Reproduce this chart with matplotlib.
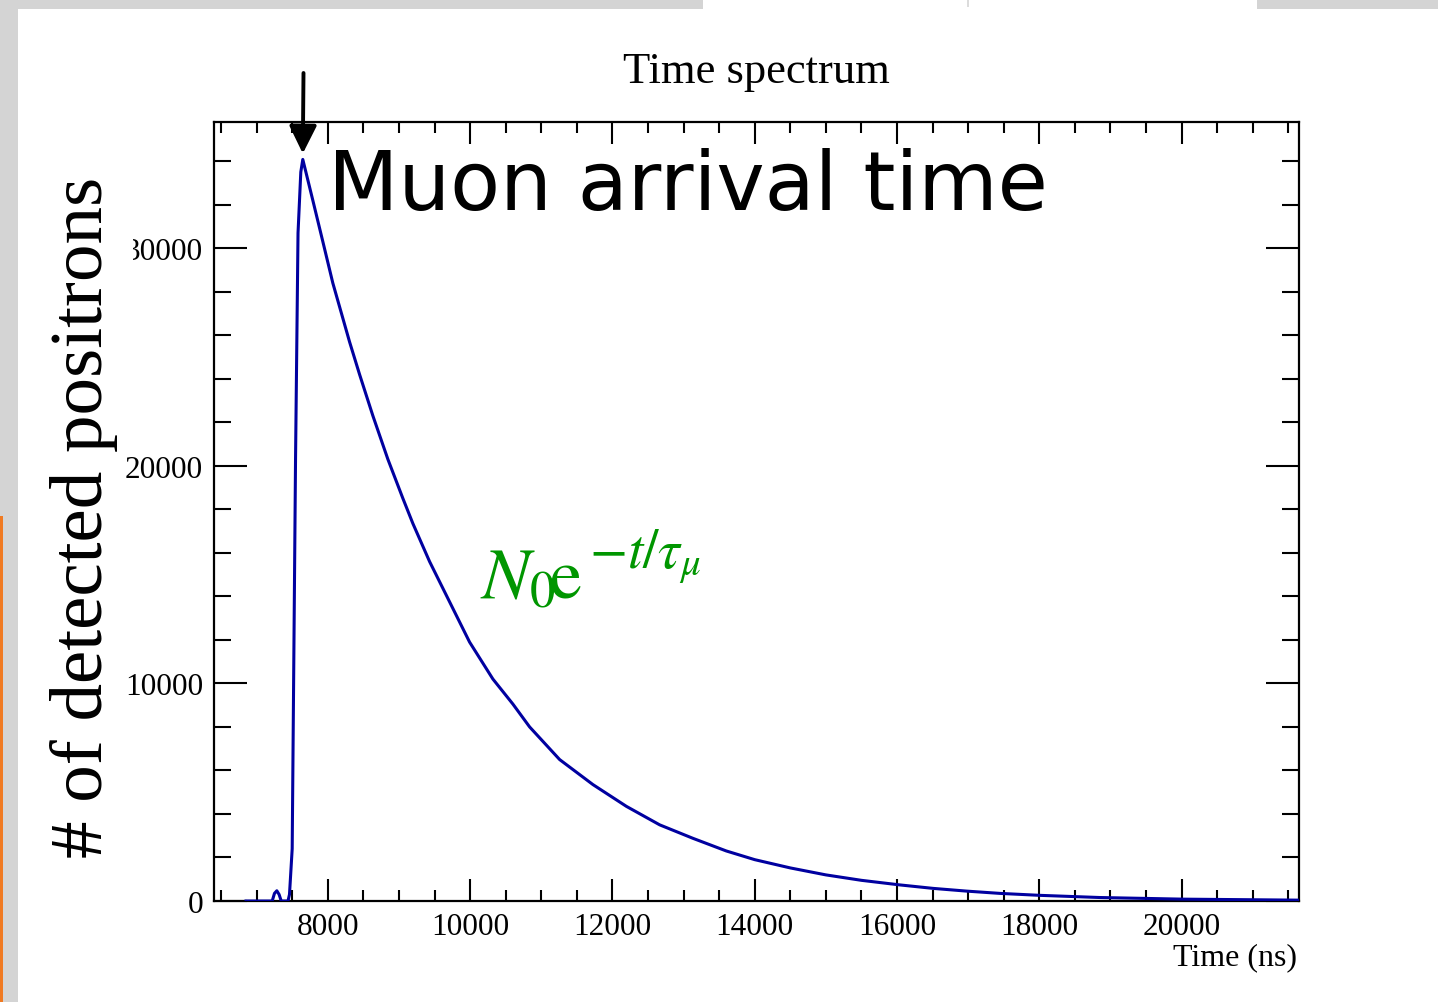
import matplotlib
matplotlib.use("Agg")
import matplotlib.pyplot as plt
from matplotlib.patches import Rectangle
from matplotlib.ticker import MultipleLocator

# ---- data ----
time_ns = [6850, 7180, 7218, 7250, 7283, 7315, 7345, 7440, 7461, 7499, 7546, 7581,
           7620, 7648, 7789, 7930, 8070, 8305, 8446, 8633, 8844, 9055, 9195, 9430,
           9711, 9992, 10320, 10601, 10836, 11258, 11726, 12196, 12664, 13132, 13600,
           14000, 14500, 15000, 15500, 16038, 16507, 16976, 17445, 18007, 18851,
           20018, 21621, 21650]
counts = [0, 0, 0, 350, 470, 300, 0, 0, 300, 2400, 20300, 30700,
          33500, 34080, 32200, 30300, 28400, 25700, 24200, 22300, 20300, 18500, 17350, 15600,
          13750, 11900, 10200, 9050, 8000, 6500, 5350, 4350, 3500, 2880, 2300,
          1900, 1520, 1200, 950, 740, 580, 455, 350, 260, 160,
          85, 40, 40]

x_major = [8000, 10000, 12000, 14000, 16000, 18000, 20000]
y_major = [0, 10000, 20000, 30000]
x_range = (6400, 21650)
y_range = (0, 35800)

title = "Time spectrum"
xlabel = "Time (ns)"
ylabel = "# of detected positrons"
annot = "Muon arrival time"
formula_base = r"$N_0\!\mathrm{e}$"
formula_exp = r"$-t/\tau_{\mu}$"

W, H = 1438, 1003
SERIF = "Liberation Serif"

fig = plt.figure(figsize=(W / 100, H / 100), dpi=100)
fig.patch.set_facecolor("white")


def px(x0, y0, x1, y1):
    return (x0 / W, 1 - y1 / H, (x1 - x0) / W, (y1 - y0) / H)


def rect(x0, y0, x1, y1, color, z=0):
    l, b, w, h = px(x0, y0, x1, y1)
    fig.add_artist(Rectangle((l, b), w, h, transform=fig.transFigure,
                             facecolor=color, edgecolor="none", zorder=z))


def ftext(x, y, s, **kw):
    return fig.text(x / W, 1 - y / H, s, **kw)


# slide background decorations
rect(0, 0, 703, 10, "#d4d4d4", -1)
rect(1257, 0, W, 10, "#d4d4d4", -1)
rect(967, 0, 969, 8, "#dcdcdc", -1)
rect(0, 0, 18, H, "#d4d4d4", -1)
rect(0, 517, 3, H, "#f07a22", -1)

ax = fig.add_axes(px(214, 123, 1299, 902))
ax.plot(time_ns, counts, color="#0000a0", lw=2.2, zorder=3)
ax.set_xlim(*x_range)
ax.set_ylim(*y_range)

ax.set_xticks(x_major)
ax.set_yticks(y_major)
ax.xaxis.set_minor_locator(MultipleLocator(500))
ax.yaxis.set_minor_locator(MultipleLocator(2000))
ax.tick_params(axis="both", which="both", direction="in", top=True, right=True,
               width=1.5, colors="black")
ax.tick_params(axis="x", which="major", length=16, pad=8)
ax.tick_params(axis="x", which="minor", length=8)
ax.tick_params(axis="y", which="major", length=24, pad=8)
ax.tick_params(axis="y", which="minor", length=12)
for lab in ax.get_xticklabels() + ax.get_yticklabels():
    lab.set_fontfamily(SERIF)
    lab.set_fontsize(22.5)
for s in ax.spines.values():
    s.set_linewidth(1.6)

# hide part of the 30000 label like in the reference
rect(104, 228, 133, 272, "white", 5)

ftext(756, 83, title, family=SERIF, fontsize=32, ha="center", va="baseline")
ftext(1297, 965, xlabel, family=SERIF, fontsize=23, ha="right", va="baseline")
ftext(102, 517, ylabel, family=SERIF, fontsize=54, rotation=90,
      rotation_mode="anchor", ha="center", va="baseline")

ftext(328, 210, annot, family="DejaVu Sans", fontsize=58.8, ha="left", va="baseline")

# green formula N0 e^{-t/tau_mu}, ROOT-style placement
GREEN = "#009600"
mk = dict(color=GREEN, math_fontfamily="stix", ha="left", va="baseline")
ftext(480, 598, formula_base, fontsize=52, **mk)
ftext(589, 569, formula_exp, fontsize=40, **mk)

ax.annotate("", xy=(7648, 34350), xycoords="data",
            xytext=(303.5 / W, 1 - 74 / H), textcoords="figure fraction",
            arrowprops=dict(arrowstyle="-|>,head_length=0.85,head_width=0.42",
                            lw=2.8, color="black", mutation_scale=20,
                            shrinkA=0, shrinkB=0),
            annotation_clip=False)

fig.savefig("out.png", dpi=100)
